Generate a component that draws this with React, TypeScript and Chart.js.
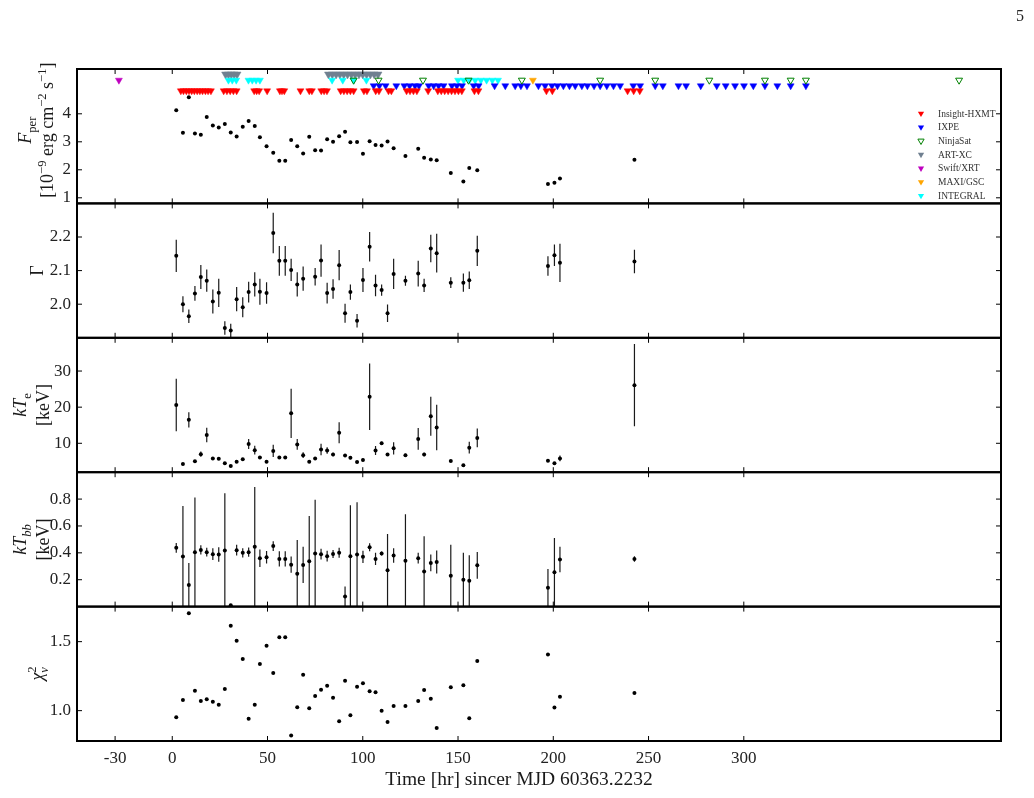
import React, { useEffect, useRef } from 'react';
import { Chart, registerables } from 'chart.js';

Chart.register(...registerables);

// ---------- data ----------
const timeHr = [2.1, 5.6, 8.7, 11.9, 15.0, 18.1, 21.3, 24.4, 27.6, 30.7, 33.8, 37.0, 40.1, 43.3, 46.0, 49.5, 53.0, 56.2, 59.3, 62.4, 65.6, 68.7, 71.9, 75.0, 78.1, 81.3, 84.4, 87.6, 90.7, 93.5, 97.0, 100.1, 103.6, 106.7, 109.9, 113.0, 116.2, 122.4, 129.1, 132.2, 135.7, 138.8, 146.2, 152.8, 155.9, 160.1, 197.2, 200.6, 203.5, 242.6];

const fluxPer = [4.13, 3.32, 4.59, 3.30, 3.25, 3.89, 3.58, 3.51, 3.64, 3.33, 3.19, 3.54, 3.74, 3.56, 3.16, 2.84, 2.61, 2.32, 2.32, 3.06, 2.84, 2.58, 3.18, 2.70, 2.69, 3.09, 3.00, 3.20, 3.36, 2.98, 2.99, 2.57, 3.02, 2.89, 2.87, 3.01, 2.77, 2.49, 2.75, 2.43, 2.37, 2.34, 1.89, 1.58, 2.06, 1.98, 1.49, 1.54, 1.69, 2.36];

const gamma = [2.144, 2.000, 1.964, 2.032, 2.081, 2.070, 2.008, 2.034, 1.929, 1.922, 2.015, 1.991, 2.036, 2.059, 2.037, 2.033, 2.212, 2.129, 2.129, 2.102, 2.059, 2.076, null, 2.082, 2.130, 2.033, 2.045, 2.116, 1.973, 2.036, 1.951, 2.072, 2.171, 2.056, 2.042, 1.973, 2.090, 2.070, 2.091, 2.056, 2.166, 2.152, 2.064, 2.064, 2.071, 2.159, 2.114, 2.146, 2.123, 2.127];
const gammaErr = [0.048, 0.024, 0.02, 0.022, 0.036, 0.033, 0.036, 0.042, 0.02, 0.02, 0.036, 0.03, 0.031, 0.036, 0.039, 0.032, 0.06, 0.044, 0.044, 0.033, 0.036, 0.036, null, 0.026, 0.048, 0.031, 0.029, 0.045, 0.028, 0.023, 0.02, 0.036, 0.044, 0.032, 0.017, 0.026, 0.045, 0.015, 0.038, 0.02, 0.041, 0.058, 0.016, 0.027, 0.026, 0.045, 0.029, 0.032, 0.057, 0.035];

const kTe = [20.6, 4.25, 16.5, 5.0, 7.0, 12.3, 5.8, 5.7, 4.5, 3.7, 4.9, 5.6, 9.8, 8.1, 6.1, 4.9, 7.9, 6.1, 6.1, 18.3, 9.7, 6.7, 4.9, 5.8, 8.3, 8.0, 6.9, 12.9, 6.6, 6.0, 4.8, 5.4, 22.9, 8.0, 10.0, 6.9, 8.6, 6.7, 11.2, 6.9, 17.5, 14.4, 5.1, 3.9, 8.8, 11.5, 5.2, 4.5, 5.8, 26.1];
const kTeErr = [7.3, 0.3, 2.1, 0.3, 0.7, 2.0, 0.3, 0.3, 0.3, 0.3, 0.3, 0.3, 1.4, 1.2, 0.4, 0.3, 1.7, 0.4, 0.4, 6.8, 1.5, 0.8, 0.3, 0.3, 1.6, 0.9, 0.5, 2.9, 0.4, 0.4, 0.3, 0.4, 9.2, 1.25, 0.4, 0.4, 1.7, 0.4, 3.0, 0.5, 5.4, 6.3, 0.3, 0.3, 1.6, 2.6, 0.3, 0.3, 0.8, 11.4];

const kTbb = [0.437, 0.372, 0.16, 0.405, 0.422, 0.405, 0.39, 0.388, 0.417, 0.01, 0.42, 0.40, 0.405, 0.445, 0.36, 0.367, 0.45, 0.355, 0.355, 0.312, 0.245, 0.31, 0.337, 0.395, 0.39, 0.375, 0.392, 0.40, 0.075, 0.375, 0.388, 0.37, 0.442, 0.355, 0.395, 0.27, 0.38, 0.342, 0.36, 0.262, 0.325, 0.332, 0.23, 0.20, 0.192, 0.307, 0.14, 0.255, 0.35, 0.354];
const kTbbErr = [0.037, 0.377, 0.165, 0.407, 0.035, 0.033, 0.044, 0.054, 0.427, 0.01, 0.04, 0.035, 0.035, 0.445, 0.065, 0.046, 0.037, 0.056, 0.056, 0.06, 0.25, 0.135, 0.337, 0.4, 0.04, 0.04, 0.03, 0.037, 0.075, 0.38, 0.388, 0.045, 0.03, 0.046, 0.015, 0.27, 0.054, 0.345, 0.04, 0.262, 0.062, 0.085, 0.23, 0.2, 0.19, 0.1, 0.14, 0.255, 0.095, 0.02];

const chi2 = [0.952, 1.078, 1.706, 1.145, 1.070, 1.083, 1.065, 1.043, 1.157, 1.616, 1.507, 1.375, 0.942, 1.043, 1.338, 1.471, 1.273, 1.532, 1.532, 0.819, 1.025, 1.261, 1.017, 1.107, 1.152, 1.181, 1.094, 0.923, 1.217, 0.967, 1.174, 1.199, 1.14, 1.133, 1.0, 0.918, 1.034, 1.034, 1.070, 1.15, 1.087, 0.875, 1.17, 1.184, 0.945, 1.36, 1.407, 1.022, 1.10, 1.128];

// observation epochs (hr)
const hxmtTimes = [4.5, 5.9, 7.4, 8.8, 10.2, 11.6, 13.1, 14.5, 15.9, 17.4, 18.8, 20.3, 27.0, 28.7, 30.4, 32.1, 33.8, 43.0, 44.3, 45.6, 49.8, 56.5, 57.6, 58.8, 67.3, 71.9, 73.3, 78.2, 79.7, 81.2, 88.4, 90.1, 91.8, 93.5, 95.2, 100.6, 102.2, 106.8, 108.5, 113.5, 115.0, 123.0, 124.8, 126.6, 128.4, 134.3, 139.4, 141.2, 143.0, 144.8, 146.6, 148.4, 150.2, 152.0, 158.6, 160.7, 196.4, 199.5, 239.0, 242.2, 245.4];
const ixpeTimes = [105.7, 108.7, 112.0, 117.6, 121.8, 124.6, 127.4, 129.5, 134.6, 137.2, 139.8, 142.4, 146.8, 149.4, 152.1, 158.2, 160.8, 169.2, 174.8, 180.0, 183.0, 186.2, 192.2, 195.7, 199.3, 202.2, 205.3, 208.5, 211.5, 215.0, 217.9, 221.4, 224.6, 228.1, 231.6, 235.1, 242.0, 245.6, 253.5, 257.5, 265.7, 269.7, 277.4, 285.8, 290.5, 295.4, 300.1, 305.0, 311.1, 317.6, 324.6, 332.6];
const ninjaTimes = [95.2, 108.3, 131.6, 155.5, 183.5, 224.6, 253.5, 281.9, 311.1, 324.6, 332.6, 413.0];
const artxcTimes = [28.0, 29.5, 31.0, 32.5, 34.0, 82.0, 84.0, 86.0, 88.0, 90.0, 92.0, 94.0, 96.0, 98.0, 100.0, 102.0, 104.0, 106.0, 108.0];
const swiftTimes = [-28.0];
const maxiTimes = [189.3];
const integralTimes = [29.5, 31.5, 33.6, 40.0, 42.0, 44.0, 46.0, 83.9, 89.5, 95.2, 101.9, 150.0, 153.0, 156.0, 159.0, 162.0, 165.0, 168.0, 171.0];

const rowHxmt = 4.82;
const rowIxpe = 5.0;
const rowUpper = 5.2;
const rowArt = 5.41;

const xTicks = [-30, 0, 50, 100, 150, 200, 250, 300];
const fluxTicks = [1, 2, 3, 4];
const gammaTicks = [2.0, 2.1, 2.2];
const kTeTicks = [10, 20, 30];
const kTbbTicks = [0.2, 0.4, 0.6, 0.8];
const chiTicks = [1.0, 1.5];

const legendNames = ['Insight-HXMT', 'IXPE', 'NinjaSat', 'ART-XC', 'Swift/XRT', 'MAXI/GSC', 'INTEGRAL'];
const legendColors = ['#ff0000', '#0000ff', '#008000', '#708090', '#bf00bf', '#ffa500', '#00ffff'];
const legendHollow = [false, false, true, false, false, false, false];

const SERIF = '"Liberation Serif", "Times New Roman", serif';

type Seg = { t: string; it?: boolean; sub?: boolean; sup?: boolean; keep?: boolean };

function drawRich(ctx: CanvasRenderingContext2D, segs: Seg[], cx: number, cy: number, size: number) {
  const fontFor = (s: Seg) => `${s.it ? 'italic ' : ''}${s.sub || s.sup ? size * 0.7 : size}px ${SERIF}`;
  let total = 0;
  const widths: number[] = [];
  for (const s of segs) {
    ctx.font = fontFor(s);
    const w = ctx.measureText(s.t).width;
    widths.push(w);
    if (!s.keep) total += w;
  }
  ctx.save();
  ctx.translate(cx, cy);
  ctx.rotate(-Math.PI / 2);
  ctx.fillStyle = '#1a1a1a';
  ctx.textBaseline = 'alphabetic';
  ctx.textAlign = 'left';
  let x = -total / 2;
  const base = size * 0.35;
  segs.forEach((s, i) => {
    ctx.font = fontFor(s);
    const dy = s.sub ? size * 0.25 : s.sup ? -size * 0.42 : 0;
    ctx.fillText(s.t, x, base + dy);
    if (!s.keep) x += widths[i];
  });
  ctx.restore();
}

function drawTri(ctx: CanvasRenderingContext2D, x: number, y: number, r: number, color: string, hollow: boolean) {
  ctx.beginPath();
  ctx.moveTo(x, y + r);
  ctx.lineTo(x - r * 0.866, y - r * 0.5);
  ctx.lineTo(x + r * 0.866, y - r * 0.5);
  ctx.closePath();
  if (hollow) {
    ctx.strokeStyle = color;
    ctx.lineWidth = 1;
    ctx.stroke();
  } else {
    ctx.fillStyle = color;
    ctx.fill();
  }
}

const panelIds = ['y1', 'y2', 'y3', 'y4', 'y5'];

const panelPlugin = {
  id: 'panelDecor',
  beforeDatasetsDraw(chart: any) {
    const ctx: CanvasRenderingContext2D = chart.ctx;
    const xs = chart.scales.x;
    chart.data.datasets.forEach((ds: any) => {
      if (!ds.errY) return;
      const ys = chart.scales[ds.yAxisID];
      ctx.save();
      ctx.beginPath();
      ctx.rect(xs.left, ys.top, xs.right - xs.left, ys.bottom - ys.top);
      ctx.clip();
      ctx.strokeStyle = '#1a1a1a';
      ctx.lineWidth = 1.2;
      ds.data.forEach((p: any, j: number) => {
        const e = ds.errY[j];
        if (p.y == null || e == null) return;
        const px = xs.getPixelForValue(p.x);
        ctx.beginPath();
        ctx.moveTo(px, ys.getPixelForValue(p.y - e));
        ctx.lineTo(px, ys.getPixelForValue(p.y + e));
        ctx.stroke();
      });
      ctx.restore();
    });
  },
  afterDraw(chart: any) {
    const ctx: CanvasRenderingContext2D = chart.ctx;
    const xs = chart.scales.x;
    const L = xs.left, R = xs.right;
    const tl = 5;
    ctx.save();
    ctx.strokeStyle = '#000';
    ctx.lineWidth = 1;
    for (const id of panelIds) {
      const ys = chart.scales[id];
      ctx.beginPath();
      for (const t of xs.ticks) {
        const px = xs.getPixelForValue(t.value);
        ctx.moveTo(px, ys.top);
        ctx.lineTo(px, ys.top + tl);
        ctx.moveTo(px, ys.bottom);
        ctx.lineTo(px, ys.bottom - tl);
      }
      for (const t of ys.ticks) {
        const py = ys.getPixelForValue(t.value);
        ctx.moveTo(L, py);
        ctx.lineTo(L + tl, py);
        ctx.moveTo(R, py);
        ctx.lineTo(R - tl, py);
      }
      ctx.stroke();
    }
    ctx.lineWidth = 2;
    for (const id of panelIds) {
      const ys = chart.scales[id];
      ctx.strokeRect(L, ys.top, R - L, ys.bottom - ys.top);
    }
    ctx.restore();

    // axis titles
    const s = 18;
    const c = (id: string) => (chart.scales[id].top + chart.scales[id].bottom) / 2;
    drawRich(ctx, [{ t: 'F', it: true }, { t: 'per', sub: true }], 25, c('y1') - 6, s);
    drawRich(ctx, [{ t: '[10' }, { t: '\u22129', sup: true }, { t: ' erg cm' }, { t: '\u22122', sup: true }, { t: ' s' }, { t: '\u22121', sup: true }, { t: ']' }], 47, c('y1') - 6, s);
    drawRich(ctx, [{ t: '\u0393' }], 37, c('y2'), s);
    drawRich(ctx, [{ t: 'kT', it: true }, { t: 'e', sub: true }], 20, c('y3'), s);
    drawRich(ctx, [{ t: '[keV]' }], 43, c('y3'), s);
    drawRich(ctx, [{ t: 'kT', it: true }, { t: 'bb', sub: true, it: true }], 20, c('y4'), s);
    drawRich(ctx, [{ t: '[keV]' }], 43, c('y4'), s);
    drawRich(ctx, [{ t: '\u03c7', it: true }, { t: '2', sup: true, keep: true }, { t: '\u03bd', sub: true, it: true }], 37, c('y5'), s);

    // x title
    ctx.save();
    ctx.font = `19.5px ${SERIF}`;
    ctx.fillStyle = '#1a1a1a';
    ctx.textAlign = 'center';
    ctx.textBaseline = 'alphabetic';
    ctx.fillText('Time [hr] sincer MJD 60363.2232', 519, 785);
    ctx.restore();

    // legend
    ctx.save();
    ctx.font = `9.5px ${SERIF}`;
    ctx.textAlign = 'left';
    ctx.textBaseline = 'middle';
    legendNames.forEach((name, i) => {
      const y = 113.5 + i * 13.7;
      drawTri(ctx, 921, y, 3.6, legendColors[i], legendHollow[i]);
      ctx.fillStyle = '#333';
      ctx.fillText(name, 938, y + 0.5);
    });
    ctx.restore();
  },
};

const pts = (xs: number[], ys: (number | null)[]) => xs.map((x, i) => ({ x, y: ys[i] }));
const row = (xs: number[], y: number) => xs.map((x) => ({ x, y }));

function markerSet(label: string, times: number[], y: number, color: string, hollow = false, r = 4) {
  return {
    label,
    data: row(times, y),
    yAxisID: 'y1',
    pointStyle: 'triangle',
    rotation: 180,
    pointRadius: r,
    backgroundColor: hollow ? 'rgba(0,0,0,0)' : color,
    borderColor: color,
    borderWidth: hollow ? 1 : 0.5,
    showLine: false,
  };
}

function dotSet(label: string, ys: (number | null)[], axis: string, err?: (number | null)[]) {
  return {
    label,
    data: pts(timeHr, ys),
    yAxisID: axis,
    pointStyle: 'circle',
    pointRadius: 2,
    backgroundColor: '#000',
    borderColor: '#000',
    borderWidth: 0,
    showLine: false,
    errY: err,
  };
}

const tickFont = { family: SERIF, size: 17 };

function yScale(min: number, max: number, ticks: number[], weight: number, fmt: (v: number) => string) {
  return {
    type: 'linear',
    position: 'left',
    stack: 'panels',
    stackWeight: 1,
    weight,
    min,
    max,
    afterBuildTicks: (sc: any) => {
      sc.ticks = ticks.map((v) => ({ value: v }));
    },
    afterFit: (sc: any) => {
      sc.width = 77;
    },
    grid: { display: false, drawTicks: false },
    border: { display: false },
    ticks: { font: tickFont, color: '#222', padding: 6, callback: (v: any) => fmt(Number(v)) },
  };
}

export default function App() {
  const ref = useRef<HTMLCanvasElement | null>(null);
  useEffect(() => {
    if (!ref.current) return;
    const chart = new Chart(ref.current, {
      type: 'scatter',
      data: {
        datasets: [
          markerSet('NinjaSat', ninjaTimes, rowUpper, '#008000', true),
          markerSet('Insight-HXMT', hxmtTimes, rowHxmt, '#ff0000'),
          markerSet('IXPE', ixpeTimes, rowIxpe, '#0000ff'),
          markerSet('INTEGRAL', integralTimes, rowUpper, '#00ffff'),
          markerSet('ART-XC', artxcTimes, rowArt, '#708090', false, 4.6),
          markerSet('Swift/XRT', swiftTimes, rowUpper, '#bf00bf'),
          markerSet('MAXI/GSC', maxiTimes, rowUpper, '#ffa500'),
          dotSet('Fper', fluxPer, 'y1'),
          dotSet('Gamma', gamma, 'y2', gammaErr),
          dotSet('kTe', kTe, 'y3', kTeErr),
          dotSet('kTbb', kTbb, 'y4', kTbbErr),
          dotSet('chi2', chi2, 'y5'),
        ] as any,
      },
      options: {
        responsive: false,
        animation: false,
        events: [],
        layout: { padding: { top: 69, right: 33, left: 0, bottom: 0 } },
        plugins: { legend: { display: false }, tooltip: { enabled: false } },
        scales: {
          x: {
            type: 'linear',
            position: 'bottom',
            min: -50,
            max: 435,
            afterBuildTicks: (sc: any) => {
              sc.ticks = xTicks.map((v) => ({ value: v }));
            },
            afterFit: (sc: any) => {
              sc.height = 57;
            },
            grid: { display: false, drawTicks: false },
            border: { display: false },
            ticks: { font: tickFont, color: '#222', padding: 7, maxRotation: 0, autoSkip: false, callback: (v: any) => String(v) },
          },
          y1: yScale(0.8, 5.6, fluxTicks, 5, (v) => String(v)),
          y2: yScale(1.9, 2.3, gammaTicks, 4, (v) => v.toFixed(1)),
          y3: yScale(2.0, 39.2, kTeTicks, 3, (v) => String(v)),
          y4: yScale(0, 1.0, kTbbTicks, 2, (v) => v.toFixed(1)),
          y5: yScale(0.78, 1.754, chiTicks, 1, (v) => v.toFixed(1)),
        } as any,
      },
      plugins: [panelPlugin],
    });
    return () => chart.destroy();
  }, []);

  return (
    <div style={{ position: 'absolute', left: 0, top: 0, width: 1034, height: 798, background: '#fff' }}>
      <canvas ref={ref} width={1034} height={798} style={{ display: 'block' }} />
      <div style={{ position: 'absolute', left: 1016, top: 7, fontFamily: SERIF, fontSize: 16, color: '#222' }}>5</div>
    </div>
  );
}
